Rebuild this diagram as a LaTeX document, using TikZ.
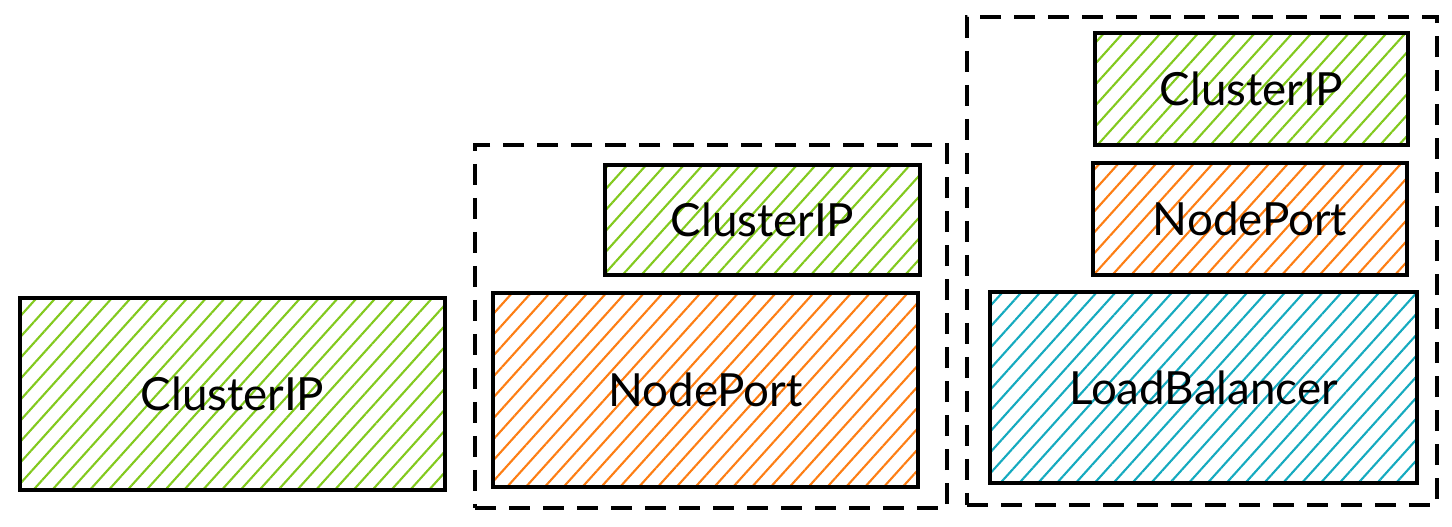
\documentclass[tikz,border=0pt]{standalone}
\usepackage{fontspec}
\setmainfont{Lato}
\usetikzlibrary{patterns.meta}
\definecolor{svcGreen}{HTML}{82C91E}
\definecolor{svcOrange}{HTML}{FD7E14}
\definecolor{svcBlue}{HTML}{15AABF}
\definecolor{svcInk}{HTML}{000000}
\tikzset{
  svc box/.style={draw=svcInk, line width=2.6pt, rectangle, inner sep=0pt,
    font=\fontsize{26}{30}\selectfont, text=svcInk},
  svc hatch/.style={pattern={Lines[angle=48, distance=0.28cm, line width=1.2pt]}, pattern color=#1},
  svc cluster/.style={svc box, svc hatch=svcGreen},
  svc nodeport/.style={svc box, svc hatch=svcOrange},
  svc balancer/.style={svc box, svc hatch=svcBlue},
  svc group/.style={draw=svcInk, line width=2.4pt, dash pattern=on 0.42cm off 0.26cm, rectangle, inner sep=0pt},
}

\begin{document}
\begin{tikzpicture}
  \useasboundingbox (0,0) rectangle (29.04,10.54);

  % single service
  \node[svc cluster, minimum width=8.5cm, minimum height=3.84cm] (clusterA) at (4.65,2.66) {ClusterIP};

  % NodePort wraps ClusterIP
  \node[svc group, minimum width=9.44cm, minimum height=7.26cm] (groupB) at (14.22,4.01) {};
  \node[svc cluster, minimum width=6.3cm, minimum height=2.2cm] (clusterB) at (15.25,6.14) {ClusterIP};
  \node[svc nodeport, minimum width=8.5cm, minimum height=3.88cm] (nodeportB) at (14.11,2.74) {NodePort};

  % LoadBalancer wraps NodePort and ClusterIP
  \node[svc group, minimum width=9.4cm, minimum height=9.76cm] (groupC) at (24.04,5.32) {};
  \node[svc cluster, minimum width=6.26cm, minimum height=2.24cm] (clusterC) at (25.03,8.76) {ClusterIP};
  \node[svc nodeport, minimum width=6.28cm, minimum height=2.24cm] (nodeportC) at (25.0,6.16) {NodePort};
  \node[svc balancer, minimum width=8.54cm, minimum height=3.82cm] (balancerC) at (24.07,2.79) {LoadBalancer};
\end{tikzpicture}
\end{document}
